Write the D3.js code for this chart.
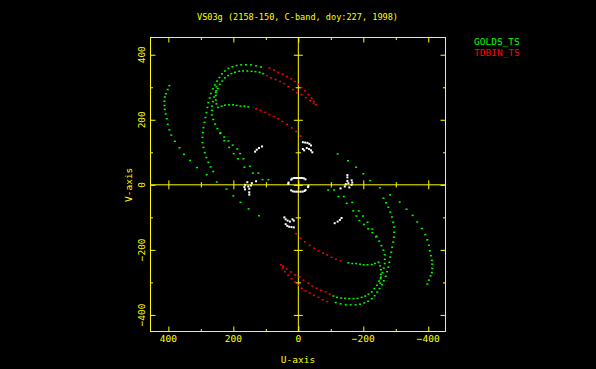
<!DOCTYPE html>
<html>
<head>
<meta charset="utf-8">
<script src="https://cdn.jsdelivr.net/npm/d3@7"></script>
<style>
  html, body { margin: 0; padding: 0; background: #000; }
  svg { display: block; }
  text { font-family: "DejaVu Sans Mono", monospace; font-size: 9.5px; fill: #ffff00; }
</style>
</head>
<body>
<svg id="chart" width="596" height="369"></svg>
<script>

// uv points [u, v]; every point is also drawn at (-u, -v)
const goldsOuter  = [[397,305],[402,293],[407,280],[411,270],[412,257],[412,244],[411,232],[408,218],
                     [405,203],[402,186],[397,169],[391,153],[380,134],[366,114],[352,94],[333,75],
                     [312,53],[282,31],[251,9],[221,-13],[200,-34],[178,-54],[153,-74],[121,-95]];
const goldsLoopA  = [[115,362],[130,366],[146,369],[161,369],[176,369],[190,367],[203,363],[215,358],
                     [226,350],[235,341],[243,330],[250,319],[257,307],[263,295],[269,281],[273,267],
                     [277,253],[280,238],[283,222],[286,207],[289,192],[292,176],[294,161],[295,146],
                     [295,130],[292,115],[288,99],[283,84],[277,69],[270,55],[262,41]];
const goldsLoopB  = [[108,342],[119,346],[132,348],[144,349],[157,350],[170,350],[182,349],[195,346],
                     [206,342],[216,336],[226,329],[234,319],[242,309],[248,296],[254,284],[259,270],
                     [263,256],[266,242],[266,229],[266,215],[262,201],[256,187],[249,173],[239,160],
                     [228,147],[215,135],[202,122],[188,110],[179,96],[169,80],[149,57],[123,36],[92,16]];
const goldsLoopC  = [[252,302],[253,289],[254,275],[254,261],[252,249],[247,238],[236,242],[226,245],
                     [213,246],[201,246],[190,244],[178,242],[166,242],[154,240]];
const goldsInner  = [[241,158],[228,136],[213,115],[199,96],[186,80],[166,54],[140,36],[110,16]];

const tdbinUpper  = [[89,359],[75,353],[62,346],[48,340],[35,333],[22,326],[11,318],[1,309],
                     [-10,299],[-21,289],[-31,278],[-41,267],[-48,256],[-54,246]];
const tdbinMiddle = [[97,336],[84,329],[70,324],[56,318],[43,311],[31,302],[16,293],[4,283],
                     [-10,277],[-23,268],[-36,259],[-47,250]];
const tdbinLower  = [[130,234],[116,229],[102,223],[89,216],[76,210],[62,203],[49,195],[35,186],
                     [20,175],[7,164],[-7,150]];

// short ground baselines (white, not in the legend)
const groundUV    = [[133,102],[128,108],[121,113],[112,118],
                     [-14,131],[-21,130],[-28,129],[-34,126],[-39,121],
                     [-14,110],[-18,106],[-26,113],[-33,110],[-39,106],[-43,100],
                     [22,16],[19,19],[13,21],[7,21],[1,21],[-5,21],[-11,21],[-17,20],[-22,17],[31,3],[30,7],
                     [164,0],[166,-7],[164,-14],[157,8],[154,-5],[151,-12],[151,-23],[151,-30],
                     [146,-2],[143,5],[130,11]];

const legendNames  = ['GOLDS_TS', 'TDBIN_TS'];
const majorTicks   = [-400, -200, 0, 200, 400];
const minorTicks   = [-300, -100, 100, 300];
const titleText    = 'VS03g (2158-150, C-band, doy:227, 1998)';

const YELLOW = '#ffff00';
const colours = { golds: '#00ff00', tdbin: '#ff0000', ground: '#ffffff' };

const svg = d3.select('#chart');
svg.append('rect').attr('width', 596).attr('height', 369).attr('fill', '#000');

const frame = { left: 150.5, right: 445.5, top: 37.5, bottom: 331.5 };

const x = d3.scaleLinear().domain([455, -453]).range([frame.left, frame.right]);
const y = d3.scaleLinear().domain([453, -451]).range([frame.top, frame.bottom]);

const fmt = d3.format('d');


// frame
svg.append('rect')
    .attr('x', frame.left).attr('y', frame.top)
    .attr('width', frame.right - frame.left).attr('height', frame.bottom - frame.top)
    .attr('fill', 'none').attr('stroke', YELLOW).attr('stroke-width', 1);

// zero lines
svg.append('line')
    .attr('x1', frame.left).attr('x2', frame.right)
    .attr('y1', y(0)).attr('y2', y(0))
    .attr('stroke', YELLOW).attr('stroke-width', 1);
svg.append('line')
    .attr('x1', x(0)).attr('x2', x(0))
    .attr('y1', frame.top).attr('y2', frame.bottom)
    .attr('stroke', YELLOW).attr('stroke-width', 1);


function tickRow(axisFn, scale, where, values, size) {
  svg.append('g')
      .attr('transform', where)
      .call(axisFn(scale).tickValues(values).tickSize(size).tickFormat(''))
      .call(g => g.select('.domain').remove())
      .selectAll('line')
        .attr('stroke', YELLOW)
        .attr('stroke-width', 1);
}

[[majorTicks, 5], [minorTicks, 2.5]].forEach(([vals, size]) => {
  tickRow(d3.axisBottom, x, `translate(0,${frame.top})`, vals, size);
  tickRow(d3.axisTop, x, `translate(0,${frame.bottom})`, vals, size);
  tickRow(d3.axisRight, y, `translate(${frame.left},0)`, vals, size);
  tickRow(d3.axisLeft, y, `translate(${frame.right},0)`, vals, size);
});

// ticks on the zero lines stick out both ways
[[majorTicks, 4.5], [minorTicks, 2.7]].forEach(([vals, size]) => {
  tickRow(d3.axisBottom, x, `translate(0,${y(0)})`, vals, size);
  tickRow(d3.axisTop, x, `translate(0,${y(0)})`, vals, size);
  tickRow(d3.axisRight, y, `translate(${x(0)},0)`, vals, size);
  tickRow(d3.axisLeft, y, `translate(${x(0)},0)`, vals, size);
});

// tick labels
svg.append('g').selectAll('text')
  .data(majorTicks)
  .enter().append('text')
    .attr('x', d => x(d))
    .attr('y', 342)
    .attr('text-anchor', 'middle')
    .text(fmt);

svg.append('g').selectAll('text')
  .data(majorTicks)
  .enter().append('text')
    .attr('transform', d => `translate(145,${y(d)}) rotate(-90)`)
    .attr('text-anchor', 'middle')
    .text(fmt);

// axis titles + title
svg.append('text')
    .attr('x', 298).attr('y', 363)
    .attr('text-anchor', 'middle')
    .text('U-axis');

svg.append('text')
    .attr('transform', `translate(131.5,${y(0)}) rotate(-90)`)
    .attr('text-anchor', 'middle')
    .text('V-axis');

svg.append('text')
    .attr('x', 297.5).attr('y', 19.5)
    .attr('text-anchor', 'middle')
    .attr('textLength', 201)
    .attr('lengthAdjust', 'spacingAndGlyphs')
    .text(titleText);

// legend
svg.append('g').selectAll('text')
  .data(legendNames)
  .enter().append('text')
    .attr('x', 474)
    .attr('y', (d, i) => 45 + i * 11)
    .style('fill', (d, i) => i === 0 ? colours.golds : colours.tdbin)
    .text(d => d);


// points, each with its conjugate
function plotUV(points, colour, w, h) {
  const both = points.concat(points.map(([u, v]) => [-u, -v]));
  svg.append('g').selectAll('rect')
    .data(both)
    .enter().append('rect')
      .attr('x', d => x(d[0]) - w / 2)
      .attr('y', d => y(d[1]) - h / 2)
      .attr('width', w)
      .attr('height', h)
      .attr('fill', colour);
}

plotUV(groundUV, colours.ground, 2, 2);
[goldsOuter, goldsLoopA, goldsLoopB, goldsLoopC, goldsInner].forEach(t => plotUV(t, colours.golds, 2, 1.5));
[tdbinUpper, tdbinMiddle, tdbinLower].forEach(t => plotUV(t, colours.tdbin, 2, 1.5));

</script>
</body>
</html>
